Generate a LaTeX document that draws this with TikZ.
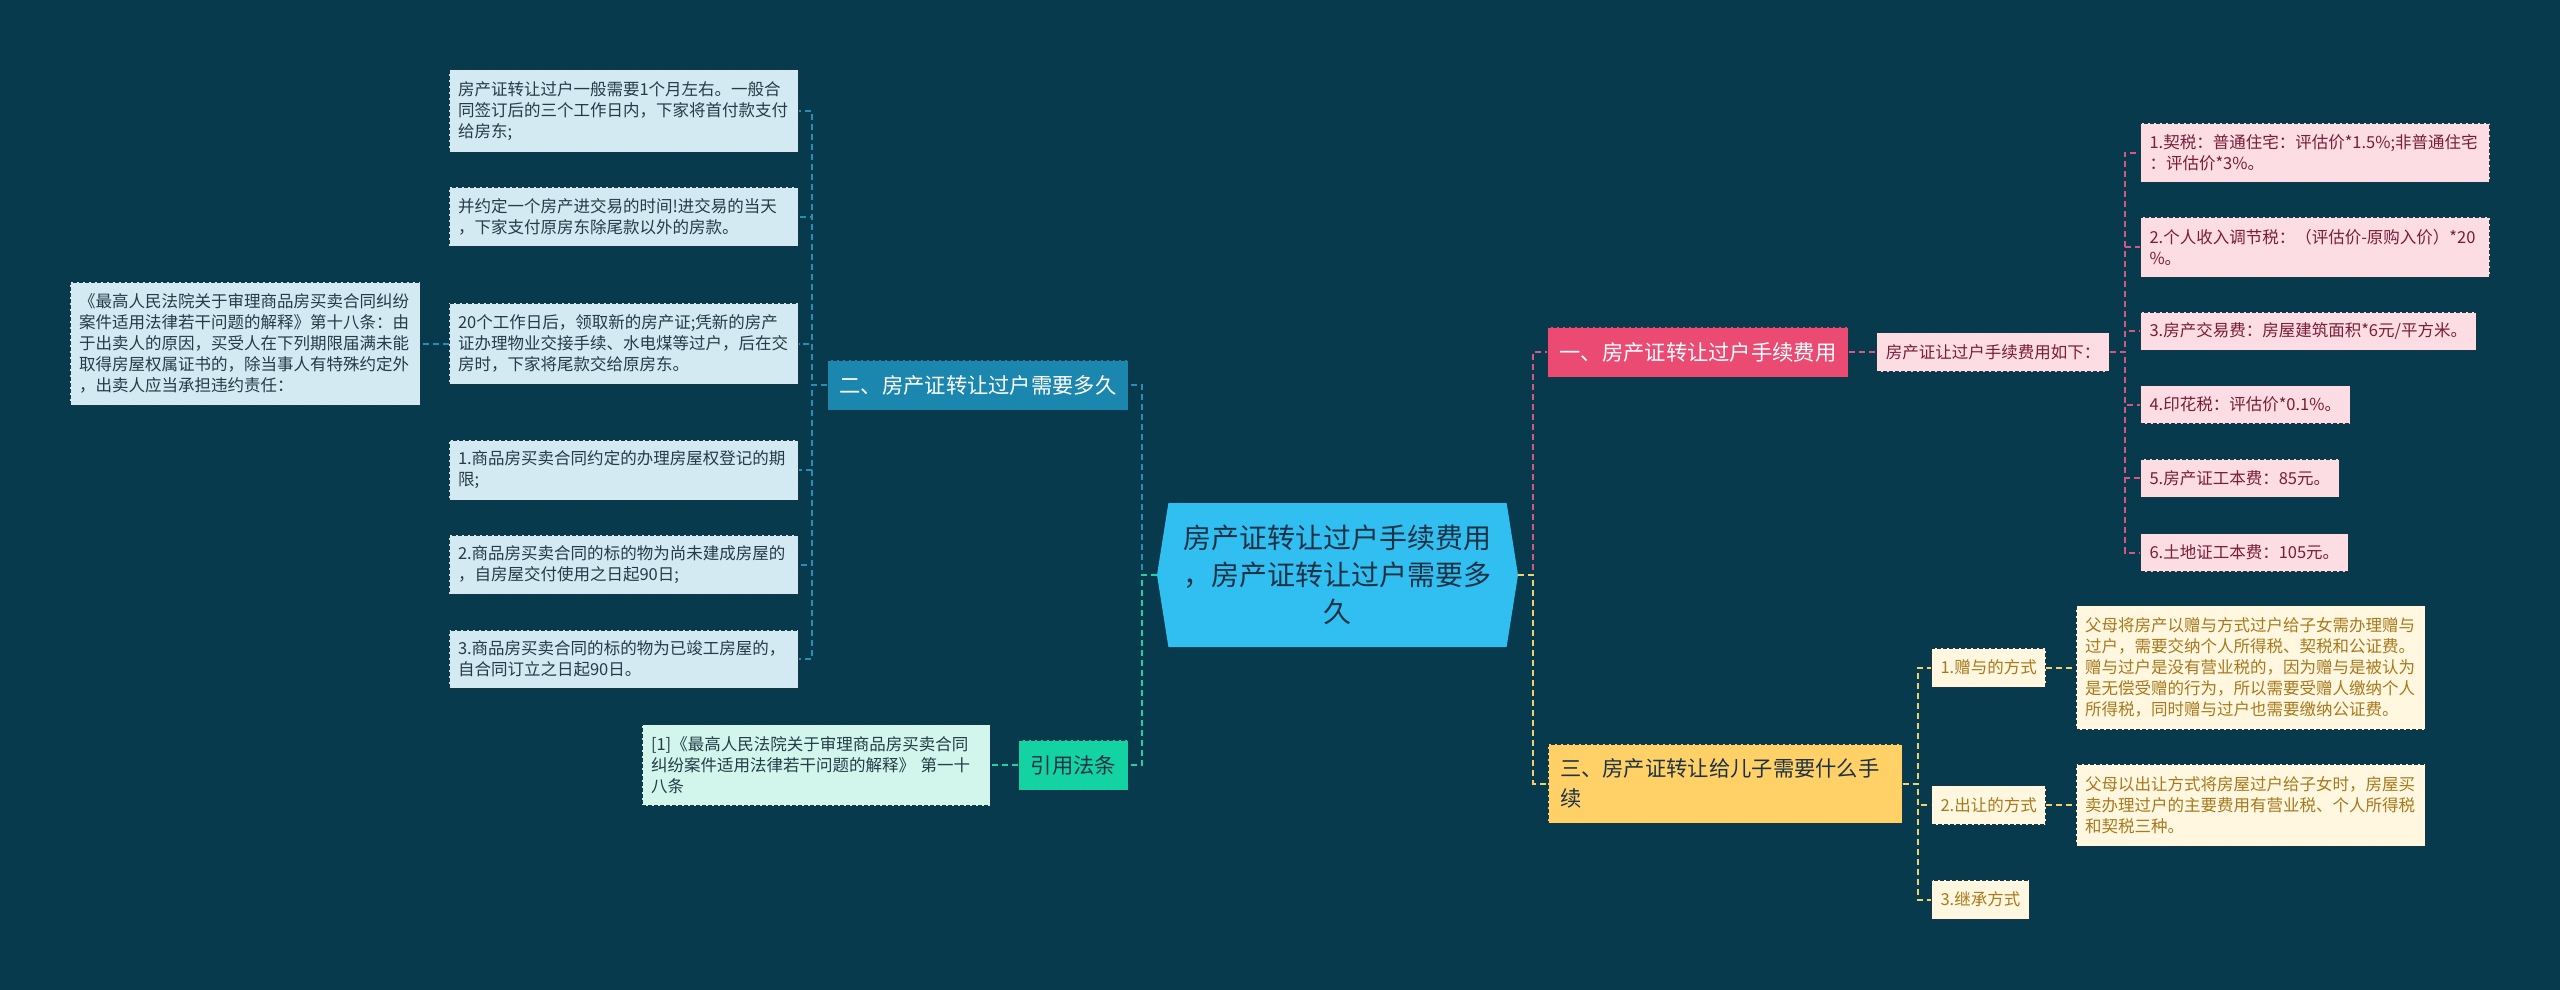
\documentclass[tikz,border=0pt]{standalone}
\usepackage{xcolor}
\usepackage{fontspec}
\setmainfont{Noto Sans CJK SC}
\usepackage{tikz}
\usetikzlibrary{positioning,shapes.symbols}
\definecolor{mmbg}{HTML}{083A4E}
\definecolor{mmedge}{HTML}{1C3542}
\definecolor{hubfill}{HTML}{30BFF0}
\definecolor{hubtext}{HTML}{1E3246}
\definecolor{spanfill}{HTML}{1B86AE}
\definecolor{spanline}{HTML}{2A8DB5}
\definecolor{spanleaf}{HTML}{D4EAF2}
\definecolor{spantext}{HTML}{243B48}
\definecolor{citefill}{HTML}{14D3A2}
\definecolor{citeline}{HTML}{1DD3A5}
\definecolor{citeleaf}{HTML}{D2F6EC}
\definecolor{feefill}{HTML}{EB4A72}
\definecolor{feeline}{HTML}{D9577E}
\definecolor{feeleaf}{HTML}{FCDDE3}
\definecolor{feetext}{HTML}{7A1C3B}
\definecolor{sonfill}{HTML}{FFD166}
\definecolor{sonline}{HTML}{F2D26E}
\definecolor{sonleaf}{HTML}{FFF7E0}
\definecolor{sontext}{HTML}{A7791C}

\begin{document}
\begin{tikzpicture}[x=1pt, y=-1pt,
  hub/.style={signal, signal to=west and east, signal pointer angle=162,
              fill=hubfill, text=hubtext, minimum width=361pt, minimum height=144pt,
              inner sep=0pt, align=center, font=\fontsize{28}{37}\selectfont},
  branch/.style={draw=mmedge, dash pattern=on 4pt off 2pt, line width=1pt,
                 minimum height=50pt, inner xsep=12pt, inner ysep=0pt,
                 font=\fontsize{21.3}{29.5}\selectfont},
  leaf/.style={draw=mmedge, dash pattern=on 4pt off 2pt, line width=1pt,
               inner xsep=9pt, inner ysep=0pt, align=left,
               font=\fontsize{16.5}{21}\selectfont},
  spanbox/.style={leaf, fill=spanleaf, text=spantext, text width=331pt},
  feebox/.style={leaf, fill=feeleaf, text=feetext, minimum height=38pt},
  sonbox/.style={leaf, fill=sonleaf, text=sontext, minimum height=39pt},
  link/.style={dash pattern=on 6pt off 4pt, line width=2pt},
]
  \fill[mmbg] (0,0) rectangle (2560,990);

  % Central topic.
  \node[hub] (hub) at (1337.5,575) {房产证转让过户手续费用\\，房产证转让过户需要多\\久};

  % Left: how long the transfer takes.
  \node[branch, fill=spanfill, text=white, minimum width=300pt] (span) at (978,385)
    {二、房产证转让过户需要多久};
  \node[spanbox, minimum height=82pt] (spanA) at (623.5,111)
    {房产证转让过户一般需要1个月左右。一般合\\同签订后的三个工作日内，下家将首付款支付\\给房东;};
  \node[spanbox, minimum height=59pt] (spanB) at (623.5,216.5)
    {并约定一个房产进交易的时间!进交易的当天\\，下家支付原房东除尾款以外的房款。};
  \node[spanbox, minimum height=81pt] (spanC) at (623.5,343.5)
    {20个工作日后，领取新的房产证;凭新的房产\\证办理物业交接手续、水电煤等过户，后在交\\房时，下家将尾款交给原房东。};
  \node[spanbox, minimum height=60pt] (spanD) at (623.5,470)
    {1.商品房买卖合同约定的办理房屋权登记的期\\限;};
  \node[spanbox, minimum height=59pt] (spanE) at (623.5,564.5)
    {2.商品房买卖合同的标的物为尚未建成房屋的\\，自房屋交付使用之日起90日;};
  \node[spanbox, minimum height=58pt] (spanF) at (623.5,659)
    {3.商品房买卖合同的标的物为已竣工房屋的，\\自合同订立之日起90日。};
  \node[spanbox, text width=332pt, minimum height=123pt] (rule) at (245,343.5)
    {《最高人民法院关于审理商品房买卖合同纠纷\\案件适用法律若干问题的解释》第十八条：由\\于出卖人的原因，买受人在下列期限届满未能\\取得房屋权属证书的，除当事人有特殊约定外\\，出卖人应当承担违约责任：};
  \draw[link, draw=spanline] (hub.west) -- ++(-15,0) |- (span.east);
  \foreach \n in {spanA,spanB,spanC,spanD,spanE,spanF}
    \draw[link, draw=spanline] (span.west) -- ++(-15,0) |- (\n.east);
  \draw[link, draw=spanline] (spanC.west) -- (rule.east);

  % Left: cited law.
  \node[branch, fill=citefill, text=hubtext, minimum width=107pt] (cite) at (1073.5,765) {引用法条};
  \node[leaf, fill=citeleaf, text=spantext, text width=330pt, minimum height=81pt] (citenote) at (816,765)
    {[1]《最高人民法院关于审理商品房买卖合同\\纠纷案件适用法律若干问题的解释》 第一十\\八条};
  \draw[link, draw=citeline] (hub.west) -- ++(-15,0) |- (cite.east);
  \draw[link, draw=citeline] (cite.west) -- (citenote.east);

  % Right: transfer fees.
  \node[branch, fill=feefill, text=white, minimum width=300pt] (fee) at (1698,352)
    {一、房产证转让过户手续费用};
  \node[feebox, minimum height=39pt] (feelist) at (1993,352) {房产证让过户手续费用如下：};
  \node[feebox, text width=331pt, minimum height=59pt, anchor=west] (fee1) at (2140,152.5)
    {1.契税：普通住宅：评估价*1.5\%;非普通住宅\\：评估价*3\%。};
  \node[feebox, text width=331pt, minimum height=60pt, anchor=west] (fee2) at (2140,247)
    {2.个人收入调节税：（评估价-原购入价）*20\\\%。};
  \node[feebox, anchor=west] (fee3) at (2140,331) {3.房产交易费：房屋建筑面积*6元/平方米。};
  \node[feebox, anchor=west] (fee4) at (2140,404.5) {4.印花税：评估价*0.1\%。};
  \node[feebox, anchor=west] (fee5) at (2140,478) {5.房产证工本费：85元。};
  \node[feebox, anchor=west] (fee6) at (2140,552.5) {6.土地证工本费：105元。};
  \draw[link, draw=feeline] (hub.east) -- ++(15,0) |- (fee.west);
  \draw[link, draw=feeline] (fee.east) -- (feelist.west);
  \foreach \n in {fee1,fee2,fee3,fee4,fee5,fee6}
    \draw[link, draw=feeline] (feelist.east) -- ++(15,0) |- (\n.west);

  % Right: transfer to a son.
  \node[branch, fill=sonfill, text=hubtext, align=left, text width=330pt, minimum height=79pt] (son) at (1725,783.5)
    {三、房产证转让给儿子需要什么手\\续};
  \node[sonbox, anchor=west] (gift) at (1931,667.5) {1.赠与的方式};
  \node[sonbox, anchor=west] (sale) at (1931,805) {2.出让的方式};
  \node[sonbox, anchor=west] (inherit) at (1931,899.5) {3.继承方式};
  \node[sonbox, text width=331pt, minimum height=124pt] (giftnote) at (2250.5,667.5)
    {父母将房产以赠与方式过户给子女需办理赠与\\过户，需要交纳个人所得税、契税和公证费。\\赠与过户是没有营业税的，因为赠与是被认为\\是无偿受赠的行为，所以需要受赠人缴纳个人\\所得税，同时赠与过户也需要缴纳公证费。};
  \node[sonbox, text width=331pt, minimum height=82pt] (salenote) at (2250.5,805)
    {父母以出让方式将房屋过户给子女时，房屋买\\卖办理过户的主要费用有营业税、个人所得税\\和契税三种。};
  \draw[link, draw=sonline] (hub.east) -- ++(15,0) |- (son.west);
  \foreach \n in {gift,sale,inherit}
    \draw[link, draw=sonline] (son.east) -- ++(15,0) |- (\n.west);
  \draw[link, draw=sonline] (gift.east) -- (giftnote.west);
  \draw[link, draw=sonline] (sale.east) -- (salenote.west);

\end{tikzpicture}
\end{document}
